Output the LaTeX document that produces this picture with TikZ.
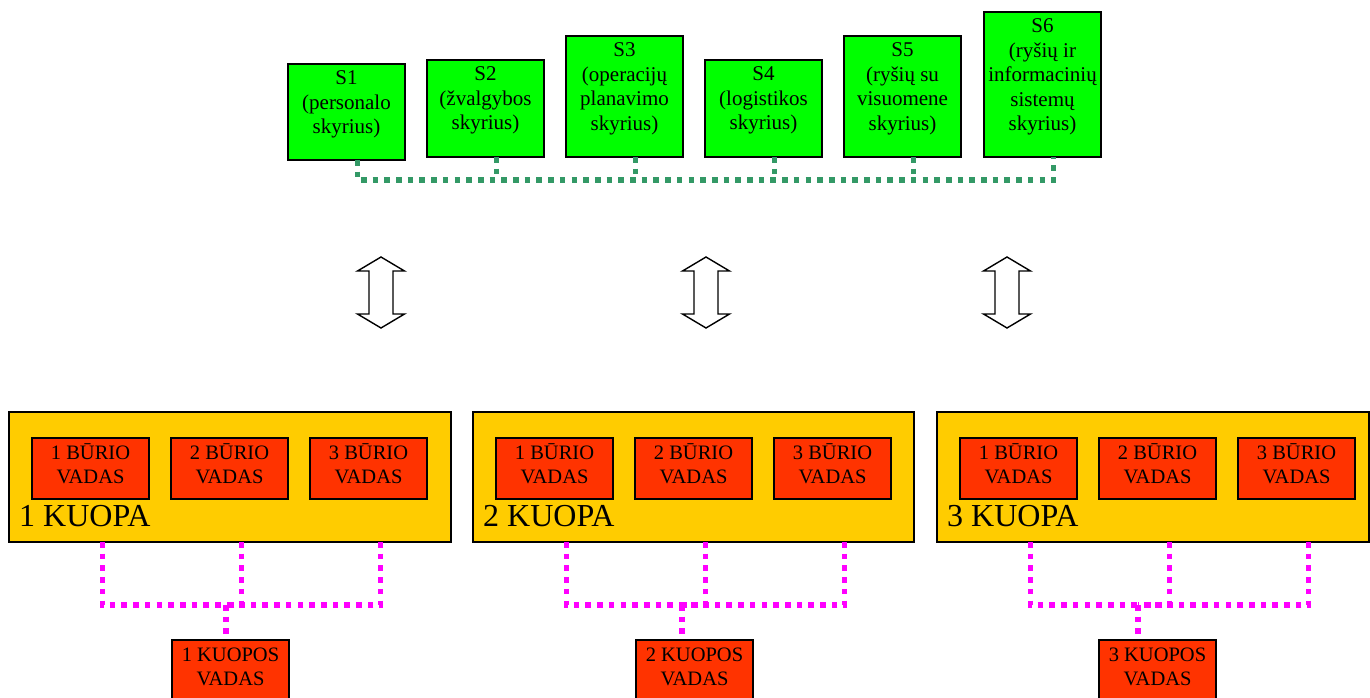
\documentclass[tikz,border=0pt]{standalone}
\usepackage{fontspec}
\setmainfont{Liberation Serif}
\usetikzlibrary{calc}
\definecolor{sgreen}{HTML}{00FF00}
\definecolor{kgold}{HTML}{FFCC00}
\definecolor{pred}{HTML}{FF3300}
\definecolor{dgreen}{HTML}{339966}
\definecolor{dmag}{HTML}{FF00FF}
% box text: width, height, font size, lines (top aligned, first baseline 21pt below the top)
\newcommand\boxtxt[4]{\parbox[c][#2][t]{#1}{\centering\fontsize{#3}{24.5}\selectfont\rule{0pt}{21pt}#4}}
\newcommand\kfont{\fontsize{32}{32}\selectfont}
\begin{document}
\begin{tikzpicture}[x=1pt,y=-1pt,
  box/.style={draw=black, line width=1.6pt, inner sep=0pt, outer sep=0pt, anchor=north west},
  sbox/.style={box, fill=sgreen},
  pbox/.style={box, fill=pred},
  kbox/.style={box, fill=kgold},
  gdots/.style={dgreen, line width=5.2pt, dash pattern=on 5.6pt off 6.1pt},
  mdots/.style={dmag, line width=5.2pt, dash pattern=on 5.6pt off 6.1pt},
  dblarrow/.style={draw=black, line width=1.4pt, fill=white, line join=miter}]
\useasboundingbox (0,0) rectangle (1370,698);

% staff sections
\node[sbox] (s1) at (288,64) {\boxtxt{117pt}{96pt}{21}{S1\\(personalo\\skyrius)}};
\node[sbox] (s2) at (427,60) {\boxtxt{117pt}{97pt}{21}{S2\\(žvalgybos\\skyrius)}};
\node[sbox] (s3) at (566,36) {\boxtxt{117pt}{121pt}{21}{S3\\(operacijų\\planavimo\\skyrius)}};
\node[sbox] (s4) at (705,60) {\boxtxt{117pt}{97pt}{21}{S4\\(logistikos\\skyrius)}};
\node[sbox] (s5) at (844,36) {\boxtxt{117pt}{121pt}{21}{S5\\(ryšių su\\visuomene\\skyrius)}};
\node[sbox] (s6) at (984,12) {\boxtxt{117pt}{145pt}{21}{S6\\(ryšių ir\\informacinių\\sistemų\\skyrius)}};

% dotted bus joining the sections
\coordinate (gbus) at (0,180);
\foreach \i in {1,...,6} \coordinate (g\i) at ([xshift=11pt]s\i.south);
\draw[gdots] (g1) |- (g6 |- gbus) -- (g6);
\foreach \i in {2,...,5} \draw[gdots] (g\i) -- (g\i |- gbus);

% two-way hollow arrows
\foreach \cx in {381,706,1007}
  \draw[dblarrow] (\cx,257) -- ++(23.5,14) -- ++(-11.5,0) -- ++(0,43) -- ++(11.5,0)
    -- (\cx,328) -- ++(-23.5,-14) -- ++(11.5,0) -- ++(0,-43) -- ++(-11.5,0) -- cycle;

% companies, platoon leaders and company commanders
\foreach \k/\L/\W/\D/\V in {1/9/442/226/172, 2/473/441/682/636, 3/937/432/1138/1099} {
  \node[kbox, minimum width=\W pt, minimum height=130pt] (k\k) at (\L,412) {};
  \node[anchor=base west, inner sep=0pt, font=\kfont] (kl\k) at (\L+10,526) {\k\ KUOPA};
  \foreach \j in {1,2,3}
    \node[pbox] (p\k\j) at (\L+23+139*\j-139,438) {\boxtxt{117pt}{61pt}{20.5}{\j\ BŪRIO\\VADAS}};
  \node[pbox] (v\k) at (\V,640) {\boxtxt{117pt}{61pt}{20.5}{\k\ KUOPOS\\VADAS}};
  \coordinate (j\k) at (\D,605);
  \foreach \j in {1,2,3} {
    \coordinate (f\k\j) at ([xshift=12pt]p\k\j.south |- k\k.south);
    \draw[mdots] (f\k\j) |- (j\k);
  }
  \draw[mdots] (j\k) -- (j\k |- v\k.north);
}
\end{tikzpicture}
\end{document}
